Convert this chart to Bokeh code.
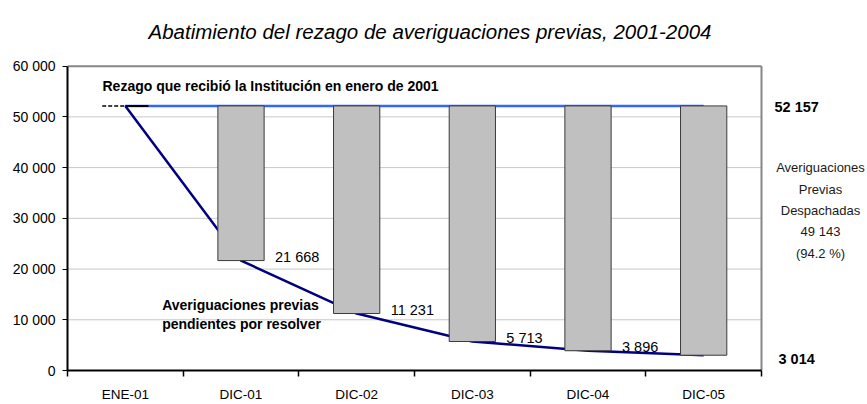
from bokeh.plotting import figure
from bokeh.models import (Range1d, FixedTicker, CustomJSTickFormatter, Label)
from bokeh.embed import file_html
from bokeh.resources import INLINE
from bokeh.core.properties import value

# ---------------- data ----------------
categories = ["ENE-01", "DIC-01", "DIC-02", "DIC-03", "DIC-04", "DIC-05"]
pending = [52157, 21668, 11231, 5713, 3896, 3014]
initial_backlog = 52157
dispatched = 49143
dispatched_pct = 94.2
y_ticks = [0, 10000, 20000, 30000, 40000, 50000, 60000]


def fmt(v):
    return f"{v:,}".replace(",", " ")


y_tick_labels = [fmt(v) for v in y_ticks]
title_text = "Abatimiento del rezago de averiguaciones previas, 2001-2004"
FONT = "Liberation Sans"
n = len(categories)
xc = [i + 0.5 for i in range(n)]          # category slot centres (0..n axis)
y_top = y_ticks[-1]

# layout (pixels)
W, H = 867, 404
LEFT, BOTTOM = 67, 32
PLOT_TOP = 66                              # top edge of the bordered plot area
PLOT_W = 694                               # width of the bordered plot area
FRAME_W = W - LEFT                         # frame runs on to the right edge
FRAME_H = H - BOTTOM                       # and up to the top edge
x_end = n * FRAME_W / PLOT_W               # so side notes and title sit in it
y_end = y_top * FRAME_H / (FRAME_H - PLOT_TOP)

# ---------------- figure ----------------
p = figure(width=W, height=H,
           x_range=Range1d(0, x_end),
           y_range=Range1d(0, y_end),
           output_backend="svg", toolbar_location=None,
           min_border_left=LEFT, min_border_right=0,
           min_border_top=0, min_border_bottom=BOTTOM)

p.background_fill_color = "white"
p.border_fill_color = "white"
p.outline_line_color = None
p.xgrid.visible = False
p.ygrid.visible = False

# y axis
ya = p.yaxis[0]
ya.bounds = (0, y_top)
ya.ticker = FixedTicker(ticks=y_ticks)
ya.formatter = CustomJSTickFormatter(
    args=dict(yvals=y_ticks, ylabels=y_tick_labels),
    code="const i = yvals.indexOf(tick); return i >= 0 ? ylabels[i] : '';")
ya.axis_line_color = "black"
ya.axis_line_width = 2
ya.major_tick_out = 5
ya.major_tick_in = 0
ya.major_tick_line_color = "black"
ya.minor_tick_out = 0
ya.minor_tick_in = 0
ya.major_label_text_font = FONT
ya.major_label_text_font_size = "14px"
ya.major_label_text_color = "black"
ya.major_label_standoff = 7

# x axis (category labels centred, ticks on category boundaries)
xa = p.xaxis[0]
xa.bounds = (0, n)
xa.ticker = FixedTicker(ticks=xc, minor_ticks=list(range(n + 1)))
xa.formatter = CustomJSTickFormatter(
    args=dict(cats=categories),
    code="const c = cats[Math.floor(tick)]; return c === undefined ? '' : c;")
xa.axis_line_color = "black"
xa.axis_line_width = 2
xa.major_tick_out = 0
xa.major_tick_in = 0
xa.minor_tick_out = 6
xa.minor_tick_in = 0
xa.minor_tick_line_color = "black"
xa.minor_tick_line_width = 1.5
xa.major_label_text_font = FONT
xa.major_label_text_font_size = "13.5px"
xa.major_label_text_color = "black"
xa.major_label_standoff = 10

# grid lines and the grey border of the plot area
grid_vals = y_ticks[1:-1]
p.segment(x0=[0] * len(grid_vals), x1=[n] * len(grid_vals),
          y0=grid_vals, y1=grid_vals, line_color="#c8c8c8", line_width=1)
p.segment(x0=[0], x1=[n], y0=[y_top], y1=[y_top],
          line_color="#868686", line_width=2)
p.segment(x0=[n], x1=[n], y0=[0], y1=[y_top],
          line_color="#868686", line_width=2)

# ---------------- glyphs ----------------
p.line(x=[xc[0], xc[-1]], y=[initial_backlog, initial_backlog],
       line_color="#3366ff", line_width=2.5)
# short black stub of the backlog line at the January 2001 point
p.line(x=[xc[0] - 0.2, xc[0]], y=[initial_backlog, initial_backlog],
       line_color="black", line_width=1.5, line_dash="4 2")
p.line(x=[xc[0], xc[0] + 0.2], y=[initial_backlog, initial_backlog],
       line_color="black", line_width=2)
p.line(x=xc, y=pending, line_color="#000080", line_width=2.5)
p.vbar(x=xc[1:], bottom=pending[1:], top=initial_backlog, width=0.4,
       fill_color="#c0c0c0", line_color="#3a3a3a", line_width=1)

p.text(x=xc[1:-1], y=pending[1:-1],
       text=[fmt(v) for v in pending[1:-1]],
       x_offset=34, y_offset=-4, text_baseline="middle", text_align="left",
       text_font=value(FONT), text_font_size="14.5px", text_color="black")

# ---------------- annotations ----------------
p.add_layout(Label(x=0, y=y_top, x_offset=81, y_offset=35,
                   text=title_text, text_baseline="middle",
                   text_font=FONT, text_font_style="italic",
                   text_font_size="20.5px", text_color="black"))

p.add_layout(Label(x=0, y=initial_backlog,
                   x_offset=35, y_offset=20,
                   text="Rezago que recibió la Institución en enero de 2001",
                   text_baseline="middle", text_font=FONT,
                   text_font_style="bold", text_font_size="14px",
                   text_color="black"))

p.add_layout(Label(x=1, y=pending[2],
                   x_offset=-21, y_offset=-1,
                   text="Averiguaciones previas\npendientes por resolver",
                   text_baseline="middle", text_font=FONT,
                   text_font_style="bold", text_font_size="14px",
                   text_line_height=1.18, text_color="black"))

p.add_layout(Label(x=n, y=initial_backlog,
                   x_offset=13, y_offset=-1,
                   text=fmt(initial_backlog),
                   text_baseline="middle", text_font=FONT,
                   text_font_style="bold", text_font_size="14.5px",
                   text_color="black"))

p.add_layout(Label(x=n, y=pending[-1],
                   x_offset=17, y_offset=-4,
                   text=fmt(pending[-1]),
                   text_baseline="middle", text_font=FONT,
                   text_font_style="bold", text_font_size="14.5px",
                   text_color="black"))

p.add_layout(Label(x=n, y=(initial_backlog + pending[-1]) / 2,
                   x_offset=59, y_offset=20,
                   text=f"Averiguaciones\nPrevias\nDespachadas\n{fmt(dispatched)}\n({dispatched_pct} %)",
                   text_align="center", text_baseline="middle",
                   text_font=FONT, text_font_size="13px",
                   text_line_height=1.42, text_color="#1a1a1a"))

open("out.html", "w").write(file_html(p, INLINE))
